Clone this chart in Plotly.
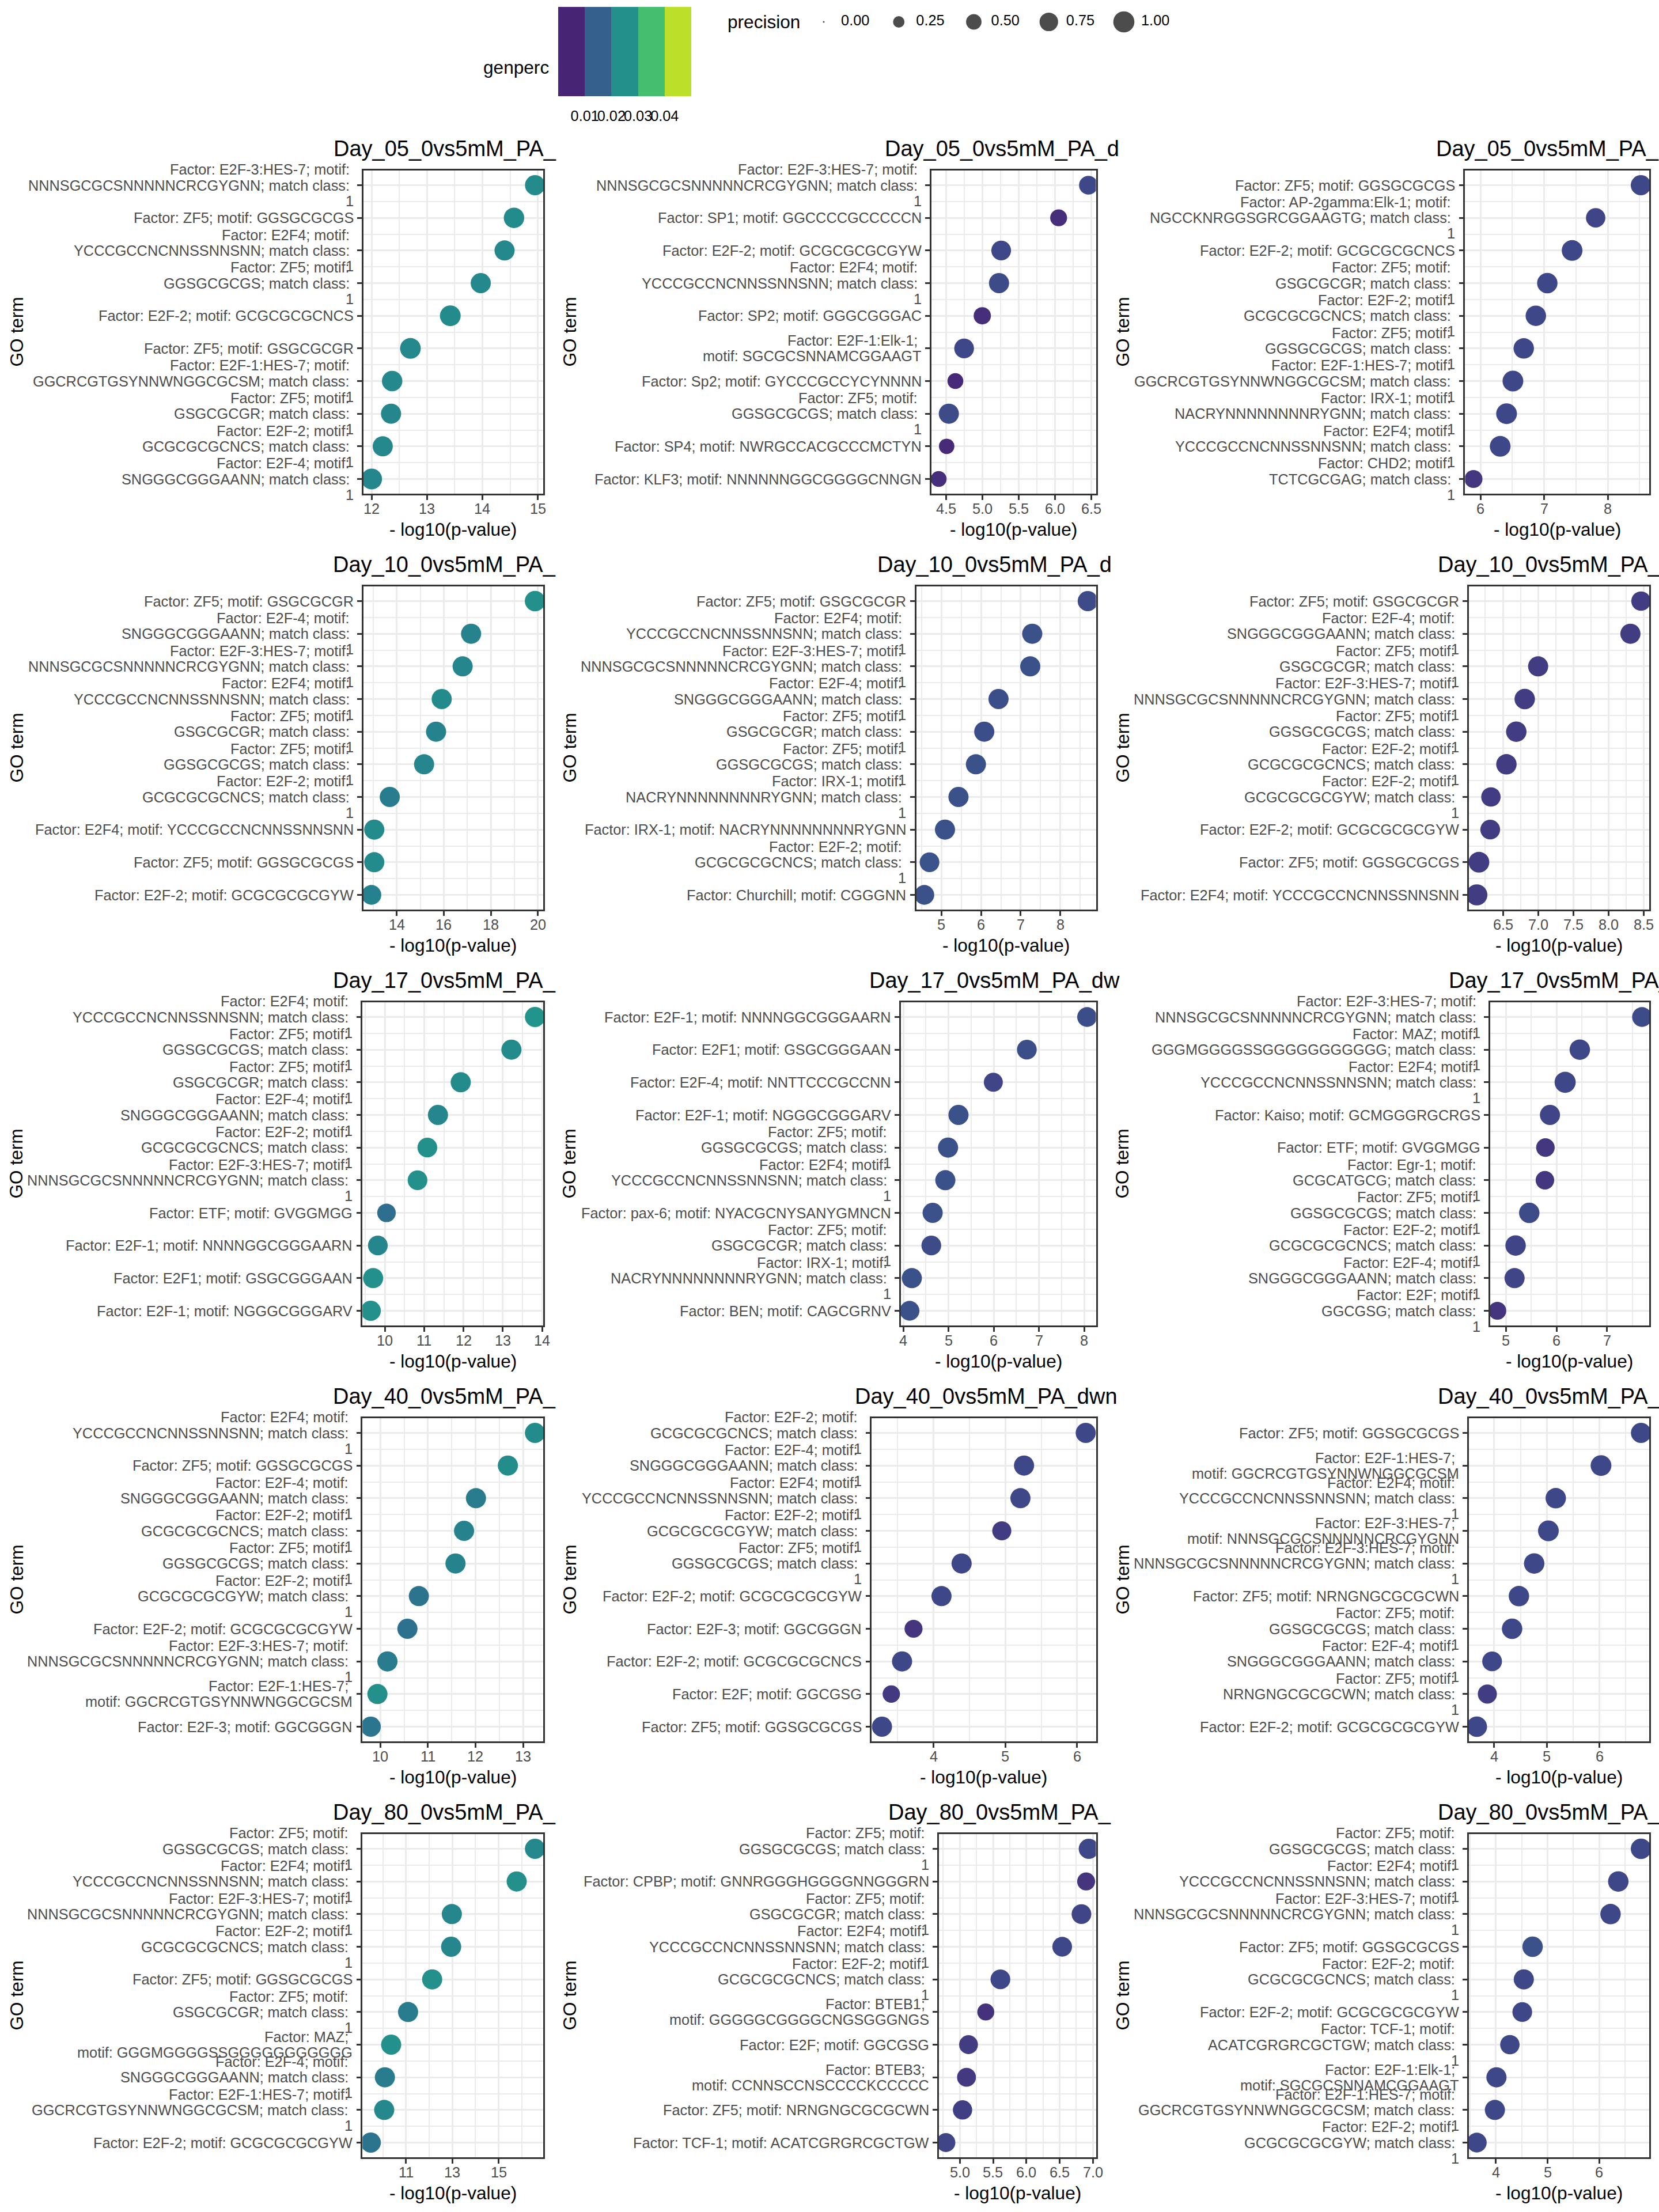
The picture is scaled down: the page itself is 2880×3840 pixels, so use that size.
import math
import plotly.graph_objects as go

# ---------------------------------------------------------------- canvas / style
W, H = 2880, 3840
FONT = "Liberation Sans, Arial, Helvetica, sans-serif"
AXIS_TEXT = 25.3
AXIS_TITLE = 31.6
PLOT_TITLE = 38
LINE_STEP = 27.3
TEXT_GREY = "#4D4D4D"
BORDER = "#333333"
GRID = "#EBEBEB"

# ---------------------------------------------------------------- label texts
A_E2F3HES7_3 = "Factor: E2F-3:HES-7; motif: \nNNNSGCGCSNNNNNCRCGYGNN; match class: \n1"
A_E2F3HES7_2 = "Factor: E2F-3:HES-7; \nmotif: NNNSGCGCSNNNNNCRCGYGNN"
A_E2F4_3 = "Factor: E2F4; motif: \nYCCCGCCNCNNSSNNSNN; match class: \n1"
A_E2F4_1 = "Factor: E2F4; motif: YCCCGCCNCNNSSNNSNN"
A_ZF5_GGS_3 = "Factor: ZF5; motif: \nGGSGCGCGS; match class: \n1"
A_ZF5_GGS_1 = "Factor: ZF5; motif: GGSGCGCGS"
A_ZF5_GSG_3 = "Factor: ZF5; motif: \nGSGCGCGR; match class: \n1"
A_ZF5_GSG_1 = "Factor: ZF5; motif: GSGCGCGR"
A_E2F2_NCS_3 = "Factor: E2F-2; motif: \nGCGCGCGCNCS; match class: \n1"
A_E2F2_NCS_1 = "Factor: E2F-2; motif: GCGCGCGCNCS"
A_E2F2_GYW_3 = "Factor: E2F-2; motif: \nGCGCGCGCGYW; match class: \n1"
A_E2F2_GYW_1 = "Factor: E2F-2; motif: GCGCGCGCGYW"
A_E2F1HES7_3 = "Factor: E2F-1:HES-7; motif: \nGGCRCGTGSYNNWNGGCGCSM; match class: \n1"
A_E2F1HES7_2 = "Factor: E2F-1:HES-7; \nmotif: GGCRCGTGSYNNWNGGCGCSM"
A_E2FM4_3 = "Factor: E2F-4; motif: \nSNGGGCGGGAANN; match class: \n1"
A_IRX1_3 = "Factor: IRX-1; motif: \nNACRYNNNNNNNNRYGNN; match class: \n1"
A_IRX1_1 = "Factor: IRX-1; motif: NACRYNNNNNNNNRYGNN"
A_E2F1ELK1_2 = "Factor: E2F-1:Elk-1; \nmotif: SGCGCSNNAMCGGAAGT"
A_ETF_1 = "Factor: ETF; motif: GVGGMGG"
A_E2F1_NNNN = "Factor: E2F-1; motif: NNNNGGCGGGAARN"
A_E2F1_GSG = "Factor: E2F1; motif: GSGCGGGAAN"
A_E2F1_NGG = "Factor: E2F-1; motif: NGGGCGGGARV"
A_ZF5_NRN_1 = "Factor: ZF5; motif: NRNGNGCGCGCWN"
A_ZF5_NRN_3 = "Factor: ZF5; motif: \nNRNGNGCGCGCWN; match class: \n1"
A_E2F_GGC_1 = "Factor: E2F; motif: GGCGSG"
A_E2F_GGC_3 = "Factor: E2F; motif: \nGGCGSG; match class: \n1"
A_E2F3_GGN = "Factor: E2F-3; motif: GGCGGGN"
A_TCF1_1 = "Factor: TCF-1; motif: ACATCGRGRCGCTGW"
A_TCF1_3 = "Factor: TCF-1; motif: \nACATCGRGRCGCTGW; match class: \n1"
A_MAZ_3 = "Factor: MAZ; motif: \nGGGMGGGGSSGGGGGGGGGGG; match class: \n1"
A_MAZ_2 = "Factor: MAZ; \nmotif: GGGMGGGGSSGGGGGGGGGGG"

# ---------------------------------------------------------------- data, panel by panel
P01_TITLE = "Day_05_0vs5mM_PA_"
P01_LABELS = [A_E2F3HES7_3, A_ZF5_GGS_1, A_E2F4_3, A_ZF5_GGS_3, A_E2F2_NCS_1, A_ZF5_GSG_1,
              A_E2F1HES7_3, A_ZF5_GSG_3, A_E2F2_NCS_3, A_E2FM4_3]
P01_PVAL = [14.95, 14.57, 14.40, 13.97, 13.42, 12.70, 12.37, 12.35, 12.20, 12.00]
P01_GENPERC = [0.024, 0.024, 0.0235, 0.0235, 0.024, 0.0235, 0.0235, 0.023, 0.0235, 0.023]
P01_PRECISION = [0.90, 0.93, 0.90, 0.90, 0.96, 0.96, 0.93, 0.90, 0.90, 0.96]
P01_XTICKS = [12, 13, 14, 15]

P02_TITLE = "Day_05_0vs5mM_PA_d"
P02_LABELS = [A_E2F3HES7_3, "Factor: SP1; motif: GGCCCCGCCCCCN", A_E2F2_GYW_1, A_E2F4_3,
              "Factor: SP2; motif: GGGCGGGAC", A_E2F1ELK1_2, "Factor: Sp2; motif: GYCCCGCCYCYNNNN",
              A_ZF5_GGS_3, "Factor: SP4; motif: NWRGCCACGCCCMCTYN", "Factor: KLF3; motif: NNNNNNGGCGGGGCNNGN"]
P02_PVAL = [6.46, 6.05, 5.26, 5.23, 5.00, 4.75, 4.63, 4.54, 4.51, 4.40]
P02_GENPERC = [0.011, 0.0065, 0.011, 0.0115, 0.0065, 0.011, 0.0055, 0.0115, 0.006, 0.0065]
P02_PRECISION = [0.77, 0.61, 0.86, 0.90, 0.64, 0.86, 0.53, 0.90, 0.50, 0.53]
P02_XTICKS = [4.5, 5.0, 5.5, 6.0, 6.5]

P03_TITLE = "Day_05_0vs5mM_PA_"
P03_LABELS = [A_ZF5_GGS_1, "Factor: AP-2gamma:Elk-1; motif: \nNGCCKNRGGSGRCGGAAGTG; match class: \n1",
              A_E2F2_NCS_1, A_ZF5_GSG_3, A_E2F2_NCS_3, A_ZF5_GGS_3, A_E2F1HES7_3, A_IRX1_3, A_E2F4_3,
              "Factor: CHD2; motif: \nTCTCGCGAG; match class: \n1"]
P03_PVAL = [8.52, 7.81, 7.44, 7.05, 6.87, 6.68, 6.51, 6.41, 6.31, 5.89]
P03_GENPERC = [0.011, 0.0105, 0.011, 0.011, 0.011, 0.011, 0.011, 0.011, 0.011, 0.008]
P03_PRECISION = [0.90, 0.83, 0.96, 0.93, 0.93, 0.93, 0.96, 0.96, 0.96, 0.70]
P03_XTICKS = [6, 7, 8]

P04_TITLE = "Day_10_0vs5mM_PA_"
P04_LABELS = [A_ZF5_GSG_1, A_E2FM4_3, A_E2F3HES7_3, A_E2F4_3, A_ZF5_GSG_3, A_ZF5_GGS_3,
              A_E2F2_NCS_3, A_E2F4_1, A_ZF5_GGS_1, A_E2F2_GYW_1]
P04_PVAL = [19.88, 17.16, 16.80, 15.91, 15.67, 15.16, 13.70, 13.04, 13.04, 12.92]
P04_GENPERC = [0.025, 0.0225, 0.023, 0.024, 0.0225, 0.023, 0.021, 0.024, 0.024, 0.022]
P04_PRECISION = [0.93, 0.90, 0.90, 0.90, 0.90, 0.90, 0.90, 0.90, 0.90, 0.86]
P04_XTICKS = [14, 16, 18, 20]

P05_TITLE = "Day_10_0vs5mM_PA_d"
P05_LABELS = [A_ZF5_GSG_1, A_E2F4_3, A_E2F3HES7_3, A_E2FM4_3, A_ZF5_GSG_3, A_ZF5_GGS_3,
              A_IRX1_3, A_IRX1_1, A_E2F2_NCS_3, "Factor: Churchill; motif: CGGGNN"]
P05_PVAL = [8.69, 7.29, 7.24, 6.44, 6.08, 5.87, 5.43, 5.09, 4.70, 4.57]
P05_GENPERC = [0.0115, 0.0125, 0.0125, 0.012, 0.012, 0.0125, 0.0125, 0.0125, 0.013, 0.0125]
P05_PRECISION = [0.90, 0.90, 0.90, 0.90, 0.90, 0.90, 0.90, 0.90, 0.86, 0.86]
P05_XTICKS = [5, 6, 7, 8]

P06_TITLE = "Day_10_0vs5mM_PA_"
P06_LABELS = [A_ZF5_GSG_1, A_E2FM4_3, A_ZF5_GSG_3, A_E2F3HES7_3, A_ZF5_GGS_3, A_E2F2_NCS_3,
              A_E2F2_GYW_3, A_E2F2_GYW_1, A_ZF5_GGS_1, A_E2F4_1]
P06_PVAL = [8.46, 8.31, 7.00, 6.81, 6.69, 6.55, 6.33, 6.32, 6.16, 6.13]
P06_GENPERC = [0.009, 0.009, 0.009, 0.009, 0.009, 0.009, 0.009, 0.009, 0.009, 0.009]
P06_PRECISION = [0.83, 0.90, 0.90, 0.93, 0.93, 0.93, 0.83, 0.86, 0.96, 1.00]
P06_XTICKS = [6.5, 7.0, 7.5, 8.0, 8.5]

P07_TITLE = "Day_17_0vs5mM_PA_"
P07_LABELS = [A_E2F4_3, A_ZF5_GGS_3, A_ZF5_GSG_3, A_E2FM4_3, A_E2F2_NCS_3, A_E2F3HES7_3,
              A_ETF_1, A_E2F1_NNNN, A_E2F1_GSG, A_E2F1_NGG]
P07_PVAL = [13.82, 13.22, 11.93, 11.35, 11.08, 10.83, 10.04, 9.82, 9.70, 9.64]
P07_GENPERC = [0.026, 0.024, 0.024, 0.023, 0.025, 0.025, 0.018, 0.023, 0.025, 0.025]
P07_PRECISION = [0.90, 0.90, 0.90, 0.90, 0.86, 0.86, 0.75, 0.86, 0.90, 0.90]
P07_XTICKS = [10, 11, 12, 13, 14]

P08_TITLE = "Day_17_0vs5mM_PA_dw"
P08_LABELS = [A_E2F1_NNNN, A_E2F1_GSG, "Factor: E2F-4; motif: NNTTCCCGCCNN", A_E2F1_NGG,
              A_ZF5_GGS_3, A_E2F4_3, "Factor: pax-6; motif: NYACGCNYSANYGMNCN", A_ZF5_GSG_3,
              A_IRX1_3, "Factor: BEN; motif: CAGCGRNV"]
P08_PVAL = [8.06, 6.73, 5.99, 5.22, 4.99, 4.93, 4.65, 4.62, 4.19, 4.14]
P08_GENPERC = [0.012, 0.012, 0.0105, 0.0125, 0.0125, 0.0125, 0.0125, 0.0115, 0.0125, 0.0125]
P08_PRECISION = [0.86, 0.86, 0.79, 0.90, 0.90, 0.90, 0.90, 0.86, 0.90, 0.86]
P08_XTICKS = [4, 5, 6, 7, 8]

P09_TITLE = "Day_17_0vs5mM_PA_"
P09_LABELS = [A_E2F3HES7_3, A_MAZ_3, A_E2F4_3, "Factor: Kaiso; motif: GCMGGGRGCRGS", A_ETF_1,
              "Factor: Egr-1; motif: \nGCGCATGCG; match class: \n1", A_ZF5_GGS_3, A_E2F2_NCS_3,
              A_E2FM4_3, A_E2F_GGC_3]
P09_PVAL = [7.69, 6.46, 6.17, 5.87, 5.78, 5.77, 5.46, 5.19, 5.17, 4.83]
P09_GENPERC = [0.0115, 0.011, 0.011, 0.0105, 0.008, 0.008, 0.0115, 0.0105, 0.0105, 0.0075]
P09_PRECISION = [0.86, 0.93, 1.00, 0.90, 0.75, 0.75, 0.93, 0.93, 0.90, 0.68]
P09_XTICKS = [5, 6, 7]

P10_TITLE = "Day_40_0vs5mM_PA_"
P10_LABELS = [A_E2F4_3, A_ZF5_GGS_1, A_E2FM4_3, A_E2F2_NCS_3, A_ZF5_GGS_3, A_E2F2_GYW_3,
              A_E2F2_GYW_1, A_E2F3HES7_3, A_E2F1HES7_2, A_E2F3_GGN]
P10_PVAL = [13.25, 12.68, 12.01, 11.76, 11.58, 10.81, 10.57, 10.15, 9.94, 9.80]
P10_GENPERC = [0.024, 0.0245, 0.021, 0.0225, 0.0225, 0.019, 0.0185, 0.021, 0.025, 0.0195]
P10_PRECISION = [0.90, 0.90, 0.90, 0.90, 0.90, 0.90, 0.90, 0.90, 0.90, 0.90]
P10_XTICKS = [10, 11, 12, 13]

P11_TITLE = "Day_40_0vs5mM_PA_dwn"
P11_LABELS = [A_E2F2_NCS_3, A_E2FM4_3, A_E2F4_3, A_E2F2_GYW_3, A_ZF5_GGS_3, A_E2F2_GYW_1,
              A_E2F3_GGN, A_E2F2_NCS_1, A_E2F_GGC_1, A_ZF5_GGS_1]
P11_PVAL = [6.12, 5.26, 5.21, 4.95, 4.39, 4.11, 3.72, 3.56, 3.41, 3.28]
P11_GENPERC = [0.011, 0.011, 0.011, 0.009, 0.011, 0.011, 0.0075, 0.011, 0.0085, 0.011]
P11_PRECISION = [0.90, 0.90, 0.90, 0.80, 0.90, 0.90, 0.70, 0.90, 0.65, 0.90]
P11_XTICKS = [4, 5, 6]

P12_TITLE = "Day_40_0vs5mM_PA_"
P12_LABELS = [A_ZF5_GGS_1, A_E2F1HES7_2, A_E2F4_3, A_E2F3HES7_2, A_E2F3HES7_3, A_ZF5_NRN_1,
              A_ZF5_GGS_3, A_E2FM4_3, A_ZF5_NRN_3, A_E2F2_GYW_1]
P12_PVAL = [6.79, 6.03, 5.17, 5.03, 4.76, 4.47, 4.34, 3.96, 3.87, 3.67]
P12_GENPERC = [0.011, 0.011, 0.011, 0.011, 0.011, 0.011, 0.011, 0.011, 0.009, 0.011]
P12_PRECISION = [0.90, 0.96, 0.93, 0.96, 0.93, 0.93, 0.93, 0.86, 0.80, 0.93]
P12_XTICKS = [4, 5, 6]

P13_TITLE = "Day_80_0vs5mM_PA_"
P13_LABELS = [A_ZF5_GGS_3, A_E2F4_3, A_E2F3HES7_3, A_E2F2_NCS_3, A_ZF5_GGS_1, A_ZF5_GSG_3,
              A_MAZ_2, A_E2FM4_3, A_E2F1HES7_3, A_E2F2_GYW_1]
P13_PVAL = [16.57, 15.78, 12.98, 12.95, 12.13, 11.09, 10.36, 10.09, 10.06, 9.48]
P13_GENPERC = [0.0235, 0.025, 0.023, 0.023, 0.025, 0.021, 0.025, 0.021, 0.0235, 0.019]
P13_PRECISION = [0.90, 0.90, 0.90, 0.90, 0.90, 0.90, 0.90, 0.90, 0.90, 0.90]
P13_XTICKS = [11, 13, 15]

P14_TITLE = "Day_80_0vs5mM_PA_"
P14_LABELS = [A_ZF5_GGS_3, "Factor: CPBP; motif: GNNRGGGHGGGGNNGGGRN", A_ZF5_GSG_3, A_E2F4_3,
              A_E2F2_NCS_3, "Factor: BTEB1; \nmotif: GGGGGCGGGGCNGSGGGNGS", A_E2F_GGC_1,
              "Factor: BTEB3; \nmotif: CCNNSCCNSCCCCKCCCCC", A_ZF5_NRN_1, A_TCF1_1]
P14_PVAL = [6.94, 6.90, 6.83, 6.54, 5.61, 5.39, 5.13, 5.10, 5.04, 4.79]
P14_GENPERC = [0.011, 0.0075, 0.0105, 0.011, 0.011, 0.007, 0.009, 0.0085, 0.0095, 0.0105]
P14_PRECISION = [0.90, 0.70, 0.86, 0.86, 0.86, 0.62, 0.78, 0.78, 0.82, 0.78]
P14_XTICKS = [5.0, 5.5, 6.0, 6.5, 7.0]

P15_TITLE = "Day_80_0vs5mM_PA_"
P15_LABELS = [A_ZF5_GGS_3, A_E2F4_3, A_E2F3HES7_3, A_ZF5_GGS_1, A_E2F2_NCS_3, A_E2F2_GYW_1,
              A_TCF1_3, A_E2F1ELK1_2, A_E2F1HES7_3, A_E2F2_GYW_3]
P15_PVAL = [6.81, 6.37, 6.22, 4.71, 4.54, 4.51, 4.27, 4.01, 3.98, 3.63]
P15_GENPERC = [0.011, 0.011, 0.011, 0.0125, 0.011, 0.011, 0.011, 0.011, 0.011, 0.011]
P15_PRECISION = [0.93, 0.93, 0.93, 0.93, 0.90, 0.86, 0.83, 0.90, 0.90, 0.86]
P15_XTICKS = [4, 5, 6]

# legend values
GENPERC_BINS = [0.005, 0.015, 0.025, 0.035, 0.045]
GENPERC_BREAKS = [0.01, 0.02, 0.03, 0.04]
GENPERC_LIMITS = [0.0, 0.05]
PRECISION_BREAKS = [0.0, 0.25, 0.5, 0.75, 1.0]

# ---------------------------------------------------------------- layout geometry (pixels)
PANEL_LEFT_PX = [[631, 1616.5, 2543.4],
                 [630.6, 1590.5, 2549.5],
                 [629.4, 1563.6, 2586.9],
                 [629.4, 1513.4, 2549.5],
                 [629.4, 1629.7, 2549.5]]
PANEL_RIGHT_PX = [943, 1902.5, 2863]
TITLE_WIDTH_PX = [421, 452, 424]
ROW_TOP0, ROW_PITCH, PANEL_H = 296, 722, 561

PANELS = [
    (P01_TITLE, P01_LABELS, P01_PVAL, P01_GENPERC, P01_PRECISION, P01_XTICKS),
    (P02_TITLE, P02_LABELS, P02_PVAL, P02_GENPERC, P02_PRECISION, P02_XTICKS),
    (P03_TITLE, P03_LABELS, P03_PVAL, P03_GENPERC, P03_PRECISION, P03_XTICKS),
    (P04_TITLE, P04_LABELS, P04_PVAL, P04_GENPERC, P04_PRECISION, P04_XTICKS),
    (P05_TITLE, P05_LABELS, P05_PVAL, P05_GENPERC, P05_PRECISION, P05_XTICKS),
    (P06_TITLE, P06_LABELS, P06_PVAL, P06_GENPERC, P06_PRECISION, P06_XTICKS),
    (P07_TITLE, P07_LABELS, P07_PVAL, P07_GENPERC, P07_PRECISION, P07_XTICKS),
    (P08_TITLE, P08_LABELS, P08_PVAL, P08_GENPERC, P08_PRECISION, P08_XTICKS),
    (P09_TITLE, P09_LABELS, P09_PVAL, P09_GENPERC, P09_PRECISION, P09_XTICKS),
    (P10_TITLE, P10_LABELS, P10_PVAL, P10_GENPERC, P10_PRECISION, P10_XTICKS),
    (P11_TITLE, P11_LABELS, P11_PVAL, P11_GENPERC, P11_PRECISION, P11_XTICKS),
    (P12_TITLE, P12_LABELS, P12_PVAL, P12_GENPERC, P12_PRECISION, P12_XTICKS),
    (P13_TITLE, P13_LABELS, P13_PVAL, P13_GENPERC, P13_PRECISION, P13_XTICKS),
    (P14_TITLE, P14_LABELS, P14_PVAL, P14_GENPERC, P14_PRECISION, P14_XTICKS),
    (P15_TITLE, P15_LABELS, P15_PVAL, P15_GENPERC, P15_PRECISION, P15_XTICKS),
]


def size_px(p):
    # area-style size scale: precision 0 -> 3 px, precision 1 -> 36.7 px diameter
    return 3.0 + 33.7 * math.sqrt(p)


def px_x(px):
    return px / W


def px_y(py):
    return 1 - py / H


fig = go.Figure()
annotations = []
layout_axes = {}

for k, (title, labels, pval, genperc, precision, xticks) in enumerate(PANELS):
    r, c = divmod(k, 3)
    n_ax = k + 1
    xname = "xaxis" if n_ax == 1 else f"xaxis{n_ax}"
    yname = "yaxis" if n_ax == 1 else f"yaxis{n_ax}"
    xref = "x" if n_ax == 1 else f"x{n_ax}"
    yref = "y" if n_ax == 1 else f"y{n_ax}"

    left = PANEL_LEFT_PX[r][c]
    right = PANEL_RIGHT_PX[c]
    top = ROW_TOP0 + r * ROW_PITCH
    bottom = top + PANEL_H

    n = len(labels)
    ypos = [n - i for i in range(n)]
    lo, hi = min(pval), max(pval)
    pad = 0.05 * (hi - lo)
    xr = [lo - pad, hi + pad]
    step = xticks[1] - xticks[0]
    minors = [m + step / 2 for m in [xticks[0] - step] + list(xticks)]
    minors = [m for m in minors if xr[0] <= m <= xr[1]]
    decimals = any(abs(v - round(v)) > 1e-9 for v in xticks)
    ticktext = [f"{v:.1f}" if decimals else f"{v:.0f}" for v in xticks]

    fig.add_trace(go.Scatter(
        x=pval, y=ypos, xaxis=xref, yaxis=yref, mode="markers",
        marker=dict(color=genperc, coloraxis="coloraxis",
                    size=[size_px(p) for p in precision], line=dict(width=0), opacity=1),
        hoverinfo="skip", showlegend=False))

    layout_axes[xname] = dict(
        domain=[px_x(left), px_x(right)], anchor=yref, range=xr,
        tickmode="array", tickvals=xticks, showticklabels=False,
        ticks="outside", ticklen=8, tickwidth=2.5, tickcolor=BORDER,
        showline=True, mirror=True, linecolor=BORDER, linewidth=2.5,
        showgrid=True, gridcolor=GRID, gridwidth=3, zeroline=False,
        minor=dict(tickmode="array", tickvals=minors, showgrid=True,
                   gridcolor=GRID, gridwidth=1.5, ticks=""),
    )
    layout_axes[yname] = dict(
        domain=[px_y(bottom), px_y(top)], anchor=xref, range=[0.55, n + 0.45],
        tickmode="array", tickvals=ypos, showticklabels=False,
        ticks="outside", ticklen=8, tickwidth=2.5, tickcolor=BORDER,
        showline=True, mirror=True, linecolor=BORDER, linewidth=2.5,
        showgrid=True, gridcolor=GRID, gridwidth=3, zeroline=False,
        minor=dict(tickmode="array", tickvals=[v + 0.5 for v in range(1, n)],
                   showgrid=True, gridcolor=GRID, gridwidth=1.5, ticks=""),
    )

    # x tick labels placed on the axis scale
    for v, t in zip(xticks, ticktext):
        annotations.append(dict(
            xref=xref, x=v, xanchor="center",
            yref=f"{yref} domain", y=0, yanchor="middle", yshift=-26,
            text=t, showarrow=False,
            font=dict(size=AXIS_TEXT, color=TEXT_GREY, family=FONT)))

    # y tick labels, one annotation per wrapped line (ggplot line spacing)
    for lab, yp in zip(labels, ypos):
        lines = lab.split("\n")
        m = len(lines)
        for j, line in enumerate(lines):
            if line.endswith(" "):
                line = line[:-1] + "\u00a0"
            annotations.append(dict(
                xref=f"{xref} domain", x=0, xanchor="right", xshift=-15,
                yref=yref, y=yp, yanchor="middle",
                yshift=((m - 1) / 2 - j) * LINE_STEP,
                text=line, showarrow=False,
                font=dict(size=AXIS_TEXT, color=TEXT_GREY, family=FONT)))

    # plot title (clipped in the original)
    center = (left + right) / 2
    annotations.append(dict(
        xref="paper", yref="paper", x=px_x(center - TITLE_WIDTH_PX[c] / 2), xanchor="left",
        y=px_y(top - 38), yanchor="middle", text=title, showarrow=False,
        font=dict(size=PLOT_TITLE, color="black", family=FONT)))
    # x axis title
    annotations.append(dict(
        xref="paper", yref="paper", x=px_x(center), xanchor="center",
        y=px_y(bottom + 62), yanchor="middle", text="- log10(p-value)", showarrow=False,
        font=dict(size=AXIS_TITLE, color="black", family=FONT)))
    # y axis title
    annotations.append(dict(
        xref="paper", yref="paper", x=px_x(c * 960 + 28), xanchor="center",
        y=px_y((top + bottom) / 2), yanchor="middle", text="GO term", textangle=-90,
        showarrow=False, font=dict(size=AXIS_TITLE, color="black", family=FONT)))

# ---------------------------------------------------------------- legend: genperc colour steps
fig.add_trace(go.Heatmap(
    x=GENPERC_BINS, y=[0], z=[GENPERC_BINS], coloraxis="coloraxis",
    xaxis="x16", yaxis="y16", hoverinfo="skip", showscale=False))
layout_axes["xaxis16"] = dict(
    domain=[px_x(969), px_x(1200)], anchor="y16", range=GENPERC_LIMITS,
    tickmode="array", tickvals=GENPERC_BREAKS, ticktext=[f"{v:.2f}" for v in GENPERC_BREAKS],
    tickangle=0, ticks="outside", ticklen=12, tickcolor="rgba(0,0,0,0)",
    tickfont=dict(size=AXIS_TEXT, color="black", family=FONT),
    showline=False, showgrid=False, zeroline=False)
layout_axes["yaxis16"] = dict(domain=[px_y(167), px_y(12)], anchor="x16", range=[-0.5, 0.5],
                              visible=False)
annotations.append(dict(
    xref="paper", yref="paper", x=px_x(955), xanchor="right", y=px_y(117), yanchor="middle",
    text="genperc", showarrow=False, font=dict(size=AXIS_TITLE, color="black", family=FONT)))

# ---------------------------------------------------------------- legend: precision sizes
idx = list(range(len(PRECISION_BREAKS)))
fig.add_trace(go.Scatter(
    x=idx, y=[0] * len(idx), xaxis="x17", yaxis="y17", mode="markers",
    marker=dict(color="black", size=[size_px(p) for p in PRECISION_BREAKS], line=dict(width=0)),
    cliponaxis=False, hoverinfo="skip", showlegend=False))
fig.add_trace(go.Scatter(
    x=[i + 0.42 for i in idx], y=[0] * len(idx), xaxis="x17", yaxis="y17", mode="text",
    text=[f"{p:.2f}" for p in PRECISION_BREAKS], textposition="middle center",
    textfont=dict(size=AXIS_TEXT, color="black", family=FONT),
    cliponaxis=False, hoverinfo="skip", showlegend=False))
layout_axes["xaxis17"] = dict(domain=[px_x(1364.9), px_x(2016.1)], anchor="y17",
                              range=[-0.5, 4.5], visible=False)
layout_axes["yaxis17"] = dict(domain=[px_y(76), px_y(0)], anchor="x17", range=[-1, 1],
                              visible=False)
annotations.append(dict(
    xref="paper", yref="paper", x=px_x(1261), xanchor="left", y=px_y(38), yanchor="middle",
    text="precision", showarrow=False, font=dict(size=AXIS_TITLE, color="black", family=FONT)))

fig.update_layout(
    width=W, height=H, autosize=False,
    margin=dict(l=0, r=0, t=0, b=0, pad=0),
    paper_bgcolor="white", plot_bgcolor="white",
    font=dict(family=FONT, color="black"),
    coloraxis=dict(colorscale="Viridis", cmin=GENPERC_LIMITS[0], cmax=GENPERC_LIMITS[1],
                   showscale=False),
    showlegend=False,
    annotations=annotations,
    **layout_axes,
)

fig.write_html("out.html")
